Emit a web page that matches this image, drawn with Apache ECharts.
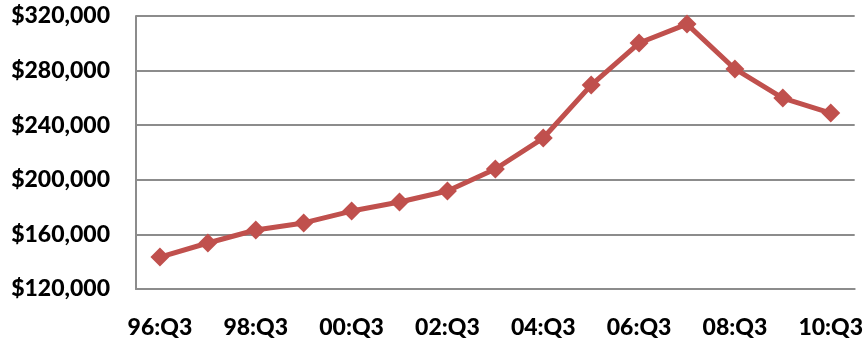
<!DOCTYPE html>
<html>
<head>
<meta charset="utf-8">
<script src="https://cdn.jsdelivr.net/npm/echarts@6/dist/echarts.min.js"></script>
<style>
  html, body { margin: 0; padding: 0; background: #fff; }
  #main { width: 866px; height: 343px; }
</style>
</head>
<body>
<div id="main"></div>
<script>
var quarters = ['96:Q3', '97:Q3', '98:Q3', '99:Q3', '00:Q3', '01:Q3', '02:Q3', '03:Q3',
  '04:Q3', '05:Q3', '06:Q3', '07:Q3', '08:Q3', '09:Q3', '10:Q3'];
var prices = [143400, 153700, 163200, 168400, 177100, 183700, 191800, 207900,
  230600, 269400, 300200, 314100, 281200, 259900, 248900];

var myChart = echarts.init(document.getElementById('main'));

var option = {
  animation: false,
  grid: { left: 136, right: 9, top: 16, bottom: 54 },
  xAxis: {
    type: 'category',
    data: quarters,
    axisTick: { show: false },
    axisLine: { lineStyle: { color: '#8c8c8c', width: 2 } },
    axisLabel: {
      interval: 1,
      margin: 27,
      color: '#000',
      fontFamily: 'Lato',
      fontWeight: 900,
      fontSize: 23
    }
  },
  yAxis: {
    type: 'value',
    min: 120000,
    max: 320000,
    interval: 40000,
    axisLine: { show: true, lineStyle: { color: '#8c8c8c', width: 2 } },
    axisTick: { show: false },
    splitLine: { lineStyle: { color: '#8c8c8c', width: 2 } },
    axisLabel: {
      margin: 26,
      color: '#000',
      fontFamily: 'Lato',
      fontWeight: 900,
      fontSize: 23,
      formatter: function (v) {
        return '$' + v.toLocaleString('en-US');
      }
    }
  },
  series: [{
    type: 'line',
    data: prices,
    symbol: 'diamond',
    symbolSize: 19,
    lineStyle: { color: '#c0504d', width: 5 },
    itemStyle: { color: '#c0504d' }
  }]
};

myChart.setOption(option);
</script>
</body>
</html>
